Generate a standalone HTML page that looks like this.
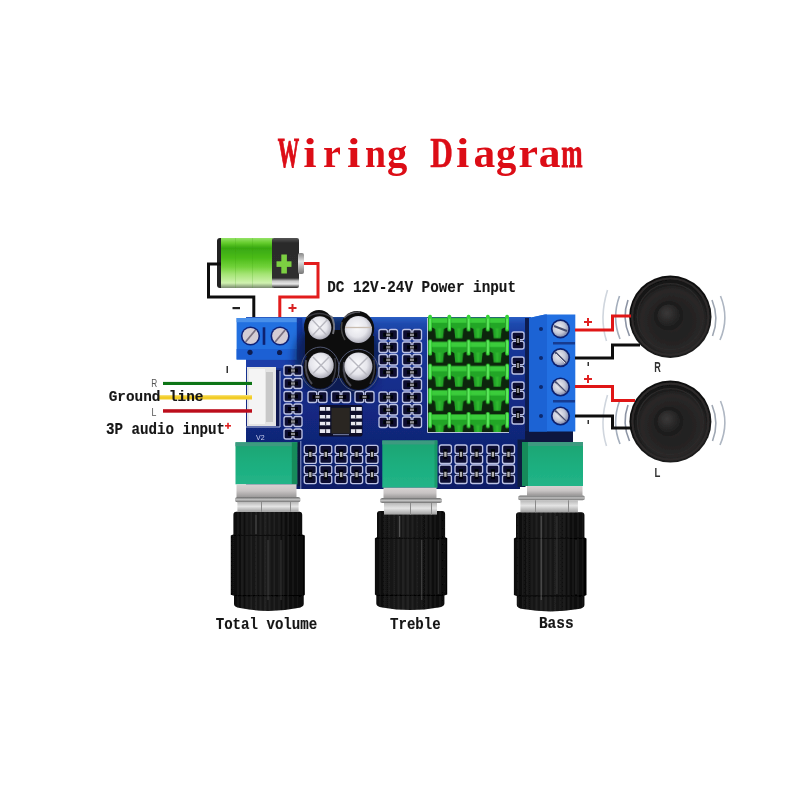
<!DOCTYPE html>
<html><head><meta charset="utf-8"><title>Wiring Diagram</title>
<style>
html,body{margin:0;padding:0;background:#fff;width:800px;height:800px;overflow:hidden}
svg{position:absolute;left:0;top:0;display:block}
text{font-family:"Liberation Mono",monospace;font-weight:bold}
.ser text{font-family:"Liberation Serif",serif;font-weight:bold}
</style></head><body>
<svg width="800" height="800" viewBox="0 0 800 800">
<defs>
  <clipPath id="clipBoard"><path d="M246 317 L531 317 L531 440 L520 440 L520 489 L246 489 Z"/></clipPath>
  <radialGradient id="gScrew" cx="0.4" cy="0.4" r="0.65">
    <stop offset="0" stop-color="#f0f0f4"/>
    <stop offset="0.6" stop-color="#c4c8d8"/>
    <stop offset="1" stop-color="#8088a8"/>
  </radialGradient>
  <filter id="soft" x="0" y="0" width="100%" height="100%"><feGaussianBlur stdDeviation="0.6"/></filter>
  <pattern id="pRidge" x="0" y="0" width="4.6" height="10" patternUnits="userSpaceOnUse">
    <rect width="4.6" height="10" fill="#000" opacity="0"/>
    <rect x="0" y="0" width="1.6" height="10" fill="#000"/>
    <rect x="2.4" y="0" width="1" height="10" fill="#555"/>
  </pattern>
  <filter id="blur4" x="-50%" y="-50%" width="200%" height="200%"><feGaussianBlur stdDeviation="4"/></filter>
  <filter id="blur2" x="-50%" y="-50%" width="200%" height="200%"><feGaussianBlur stdDeviation="2"/></filter>
  <linearGradient id="gBat" x1="0" y1="0" x2="0" y2="1">
    <stop offset="0" stop-color="#94e266"/>
    <stop offset="0.1" stop-color="#64cc2c"/>
    <stop offset="0.2" stop-color="#38a810"/>
    <stop offset="0.4" stop-color="#4cbc18"/>
    <stop offset="0.58" stop-color="#72d23a"/>
    <stop offset="0.72" stop-color="#a4e474"/>
    <stop offset="0.9" stop-color="#d0f2b0"/>
    <stop offset="1" stop-color="#7a8a70"/>
  </linearGradient>
  <linearGradient id="gBatK" x1="0" y1="0" x2="0" y2="1">
    <stop offset="0" stop-color="#555"/>
    <stop offset="0.1" stop-color="#2b2b2b"/>
    <stop offset="0.8" stop-color="#2e2e2e"/>
    <stop offset="0.86" stop-color="#c8c8c8"/>
    <stop offset="0.92" stop-color="#e8e8e8"/>
    <stop offset="1" stop-color="#222"/>
  </linearGradient>
  <linearGradient id="gNub" x1="0" y1="0" x2="0" y2="1">
    <stop offset="0" stop-color="#888"/>
    <stop offset="0.4" stop-color="#e0e0e0"/>
    <stop offset="1" stop-color="#777"/>
  </linearGradient>
  <linearGradient id="gKnob" x1="0" y1="0" x2="1" y2="0">
    <stop offset="0" stop-color="#060606"/>
    <stop offset="0.15" stop-color="#151515"/>
    <stop offset="0.45" stop-color="#1d1d1d"/>
    <stop offset="0.75" stop-color="#131313"/>
    <stop offset="1" stop-color="#050505"/>
  </linearGradient>
  <linearGradient id="gSilver" x1="0" y1="0" x2="0" y2="1">
    <stop offset="0" stop-color="#9a9a9a"/>
    <stop offset="0.5" stop-color="#dcdcdc"/>
    <stop offset="1" stop-color="#8a8a8a"/>
  </linearGradient>
  <linearGradient id="gPot" x1="0" y1="0" x2="0" y2="1">
    <stop offset="0" stop-color="#1aa472"/>
    <stop offset="0.5" stop-color="#1cae7e"/>
    <stop offset="1" stop-color="#22b488"/>
  </linearGradient>
  <linearGradient id="gSilverB" x1="0" y1="0" x2="0" y2="1">
    <stop offset="0" stop-color="#d8d2d2"/>
    <stop offset="0.5" stop-color="#c8c4c4"/>
    <stop offset="1" stop-color="#9a9898"/>
  </linearGradient>
  <linearGradient id="gWasher" x1="0" y1="0" x2="0" y2="1">
    <stop offset="0" stop-color="#6a6a6a"/>
    <stop offset="0.5" stop-color="#c0c0c0"/>
    <stop offset="1" stop-color="#707070"/>
  </linearGradient>
  <linearGradient id="gNut" x1="0" y1="0" x2="0" y2="1">
    <stop offset="0" stop-color="#b8b8b8"/>
    <stop offset="0.45" stop-color="#e4e4e4"/>
    <stop offset="1" stop-color="#a0a0a0"/>
  </linearGradient>
  <radialGradient id="gSpk" cx="0.52" cy="0.55" r="0.5">
    <stop offset="0" stop-color="#2a2828"/>
    <stop offset="0.4" stop-color="#222020"/>
    <stop offset="0.75" stop-color="#2a2828"/>
    <stop offset="0.9" stop-color="#1a1a1a"/>
    <stop offset="1" stop-color="#101010"/>
  </radialGradient>
  <radialGradient id="gDome" cx="0.42" cy="0.38" r="0.62">
    <stop offset="0" stop-color="#3a3838"/>
    <stop offset="1" stop-color="#1e1e1e"/>
  </radialGradient>
  <radialGradient id="gCap" cx="0.45" cy="0.42" r="0.6">
    <stop offset="0" stop-color="#fafafc"/>
    <stop offset="0.6" stop-color="#e6e6ec"/>
    <stop offset="1" stop-color="#a8a8b4"/>
  </radialGradient>
  <linearGradient id="gBoard" x1="0" y1="317" x2="0" y2="489" gradientUnits="userSpaceOnUse">
    <stop offset="0" stop-color="#2a5ec4"/>
    <stop offset="0.04" stop-color="#1e4aae"/>
    <stop offset="0.11" stop-color="#1a3a9c"/>
    <stop offset="0.48" stop-color="#132a86"/>
    <stop offset="1" stop-color="#0e1e66"/>
  </linearGradient>
  <pattern id="pHs" x="428" y="315.3" width="19.25" height="24.2" patternUnits="userSpaceOnUse">
    <rect width="19.25" height="24.2" fill="#0a280a"/>
    <path d="M4 2.5 L19.25 2.5 L19.25 12 L16 13.5 L15 23 L8 23 L7 13.5 L4 12 Z" fill="#24a628"/>
    <path d="M4 2.5 L19.25 2.5 L19.25 7.5 L4 7.5 Z" fill="#3acc3a"/>
    <path d="M10 13 L13 13 L12.6 22.5 L10.4 22.5 Z" fill="#2eb82e"/>
    <rect x="0.3" y="0" width="3.6" height="16" rx="1.5" fill="#36d436"/>
    <rect x="1.3" y="1" width="1.6" height="13" fill="#66ea66"/>
  </pattern>
</defs>
<g filter="url(#soft)">
<rect x="0" y="0" width="800" height="800" fill="#ffffff"/>

<!-- Title -->
<g class="ser">
<text transform="translate(288.50,166.5) scale(0.516,1)" x="-20.75" y="0" font-size="41.5" fill="#dc0a14" stroke="#dc0a14" stroke-width="0.85" vector-effect="non-scaling-stroke">W</text>
<text transform="translate(310.30,166.5) scale(1.157,1)" x="-6.02" y="0" font-size="41.5" fill="#dc0a14">i</text>
<text transform="translate(332.10,166.5) scale(0.970,1)" x="-9.34" y="0" font-size="41.5" fill="#dc0a14">r</text>
<text transform="translate(353.90,166.5) scale(1.157,1)" x="-6.02" y="0" font-size="41.5" fill="#dc0a14">i</text>
<text transform="translate(375.70,166.5) scale(0.909,1)" x="-11.83" y="0" font-size="41.5" fill="#dc0a14">n</text>
<text transform="translate(397.50,166.5) scale(0.979,1)" x="-10.79" y="0" font-size="41.5" fill="#dc0a14">g</text>
<text transform="translate(441.10,166.5) scale(0.755,1)" x="-14.32" y="0" font-size="41.5" fill="#dc0a14" stroke="#dc0a14" stroke-width="0.43" vector-effect="non-scaling-stroke">D</text>
<text transform="translate(462.90,166.5) scale(1.157,1)" x="-6.02" y="0" font-size="41.5" fill="#dc0a14">i</text>
<text transform="translate(484.70,166.5) scale(1.048,1)" x="-10.79" y="0" font-size="41.5" fill="#dc0a14">a</text>
<text transform="translate(506.50,166.5) scale(0.979,1)" x="-10.79" y="0" font-size="41.5" fill="#dc0a14">g</text>
<text transform="translate(528.30,166.5) scale(1.058,1)" x="-9.34" y="0" font-size="41.5" fill="#dc0a14">r</text>
<text transform="translate(550.10,166.5) scale(1.048,1)" x="-10.79" y="0" font-size="41.5" fill="#dc0a14">a</text>
<text transform="translate(571.90,166.5) scale(0.617,1)" x="-17.43" y="0" font-size="41.5" fill="#dc0a14" stroke="#dc0a14" stroke-width="0.67" vector-effect="non-scaling-stroke">m</text>
</g>

<!-- Battery -->
<rect x="217" y="238" width="8" height="50" rx="3" fill="#222"/>
<rect x="221" y="238" width="52" height="50" fill="url(#gBat)"/>
<rect x="235" y="238" width="1" height="50" fill="#3a9a10" opacity="0.18"/>
<rect x="252" y="238" width="1" height="50" fill="#3a9a10" opacity="0.18"/>
<rect x="272" y="238" width="27" height="50" rx="2" fill="url(#gBatK)"/>
<rect x="298" y="253" width="6" height="21" rx="2" fill="url(#gNub)"/>
<rect x="276.5" y="261.3" width="15" height="5.6" fill="#7ccf42"/>
<rect x="281.3" y="254.5" width="5.6" height="19" fill="#7ccf42"/>

<!-- Battery wires -->
<polyline points="221,264 208.5,264 208.5,297 253.8,297 253.8,320" fill="none" stroke="#111" stroke-width="3"/>
<polyline points="304,263.5 318,263.5 318,297 279.8,297 279.8,320" fill="none" stroke="#e21a1a" stroke-width="3"/>
<rect x="232.5" y="307" width="7.5" height="2.2" fill="#222"/>
<rect x="288.5" y="307" width="8" height="2" fill="#d82020"/>
<rect x="291.5" y="304" width="2" height="8" fill="#d82020"/>

<g class="ser"><text transform="translate(327.20,292.3) scale(0.843,1)" x="0" y="0" font-size="16.97" fill="#141414" style="font-family:'Liberation Mono',monospace;font-weight:bold" stroke="#141414" stroke-width="0.15">DC 12V-24V Power input</text></g>

<!-- PCB board -->
<path d="M246 317 L531 317 L531 440 L520 440 L520 489 L246 489 Z" fill="url(#gBoard)"/>

<!-- Left terminal block -->
<rect x="246" y="358" width="56" height="10" fill="#1a3ea8"/>
<rect x="236.6" y="318" width="60.4" height="41.5" fill="#2270e0"/>
<rect x="236.6" y="318" width="60.4" height="4.2" fill="#4a90ea"/>
<rect x="236.6" y="349" width="60.4" height="10.5" fill="#1c60d4"/>
<rect x="296.8" y="318" width="5.5" height="41.5" fill="#1238a0"/>
<rect x="262.7" y="327.3" width="2.6" height="17.5" fill="#0c2070"/>
<circle cx="250.5" cy="336" r="9.6" fill="#102278"/>
<circle cx="250.5" cy="336" r="8" fill="#d4ccd4"/>
<line x1="245.5" y1="342" x2="255.5" y2="330" stroke="#7a7080" stroke-width="1.8"/>
<circle cx="280.1" cy="336" r="9.6" fill="#102278"/>
<circle cx="280.1" cy="336" r="8" fill="#d4ccd4"/>
<line x1="275.1" y1="342" x2="285.1" y2="330" stroke="#7a7080" stroke-width="1.8"/>
<circle cx="250" cy="352.3" r="2.6" fill="#0a1a50"/>
<circle cx="279.6" cy="352.5" r="2.6" fill="#0a1a50"/>

<!-- White JST connector -->
<rect x="247" y="367" width="29" height="59" fill="#e4e4e4"/>
<rect x="249" y="369" width="16" height="55" fill="#f4f4f4"/>
<rect x="266" y="372" width="7" height="50" fill="#c8c8c8"/>
<rect x="276" y="370" width="4" height="56" fill="#0c1850"/>
<path d="M280 371 L280 427 L246 427" fill="none" stroke="#b8c0e0" stroke-width="1"/>
<text x="256" y="440" font-size="7" fill="#c8d0f0" style="font-family:'Liberation Sans',sans-serif;font-weight:normal">V2</text>

<!-- Capacitors -->
<g clip-path="url(#clipBoard)"><ellipse cx="338" cy="358" rx="44" ry="42" fill="#060a28" opacity="0.55" filter="url(#blur4)"/></g>
<g>
  <rect x="316" y="330" width="46" height="48" fill="#0b0b0e"/>
  <rect x="305" y="334" width="30" height="22" fill="#0b0b0e"/>
  <rect x="342" y="336" width="32" height="22" fill="#0b0b0e"/>
  <ellipse cx="319" cy="327" rx="15" ry="17" fill="#0e0e10"/>
  <ellipse cx="357.2" cy="328.5" rx="17" ry="17.5" fill="#0e0e10"/>
  <ellipse cx="320.2" cy="368.6" rx="16.8" ry="20.2" fill="#0e0e10"/>
  <ellipse cx="358.3" cy="370.3" rx="18" ry="19.7" fill="#0e0e10"/>
  <ellipse cx="320.2" cy="368.6" rx="19" ry="21.5" fill="none" stroke="#58607a" stroke-width="0.9"/>
  <ellipse cx="358.3" cy="370.3" rx="20" ry="21" fill="none" stroke="#58607a" stroke-width="0.9"/>
  <path d="M306 318 Q319 309 333 318" fill="none" stroke="#3a3a40" stroke-width="1.5"/>
  <path d="M331 316 Q336 324 333 334" fill="none" stroke="#8a8a90" stroke-width="2" opacity="0.8"/>
  <path d="M306 360 Q304 375 312 384" fill="none" stroke="#4a4a52" stroke-width="2"/>
  <path d="M344 362 Q342 378 351 386" fill="none" stroke="#4a4a52" stroke-width="2"/>
  <path d="M335 358 Q337 372 332 382" fill="none" stroke="#3a3a42" stroke-width="1.5"/>
  <path d="M374 360 Q376 374 370 384" fill="none" stroke="#3a3a42" stroke-width="1.5"/>
  <path d="M342 322 Q340 332 345 340" fill="none" stroke="#444" stroke-width="1.5"/>
  <path d="M344 318 Q350 312 360 312" fill="none" stroke="#6a6a70" stroke-width="1.5" opacity="0.8"/>
  <circle cx="319.8" cy="327.8" r="11.6" fill="url(#gCap)"/>
  <path d="M312 319.5 L327.5 336 M327.5 319.5 L312 336" stroke="#b8b8c0" stroke-width="1.4"/>
  <circle cx="358.4" cy="329.5" r="13.6" fill="url(#gCap)"/>
  <line x1="345" y1="327.5" x2="372" y2="327.5" stroke="#c8bcb0" stroke-width="1.3"/>
  <circle cx="320.9" cy="365.4" r="12.8" fill="url(#gCap)"/>
  <path d="M313 357 L329 373.5 M329 357 L313 373.5" stroke="#b8b8c0" stroke-width="1.4"/>
  <circle cx="358.4" cy="366.5" r="14" fill="url(#gCap)"/>
  <path d="M349 357 L368 376 M368 357 L349 376" stroke="#b8b8c0" stroke-width="1.4"/>
</g>

<!-- IC chip -->
<rect x="319" y="405" width="43.5" height="31.5" rx="2" fill="#06081a" opacity="0.85"/>
<rect x="331.4" y="407.7" width="18.4" height="26" fill="#2a2624"/>
<rect x="333" y="434.2" width="16" height="1" fill="#8088b0"/>
<g fill="#e8e8f0">
  <rect x="319.8" y="407" width="10.4" height="3.8"/><rect x="319.8" y="415" width="10.4" height="3.5"/><rect x="319.8" y="421.8" width="10.4" height="3.5"/><rect x="319.8" y="429.2" width="10.4" height="3.8"/>
  <rect x="350.9" y="407" width="10.9" height="3.8"/><rect x="350.9" y="415" width="10.9" height="3.5"/><rect x="350.9" y="421.8" width="10.9" height="3.5"/><rect x="350.9" y="429.2" width="10.9" height="3.8"/>
</g>
<g fill="#404050">
  <rect x="325" y="407" width="1.2" height="3.8"/><rect x="325" y="415" width="1.2" height="3.5"/><rect x="325" y="421.8" width="1.2" height="3.5"/><rect x="325" y="429.2" width="1.2" height="3.8"/>
  <rect x="355" y="407" width="1.2" height="3.8"/><rect x="355" y="415" width="1.2" height="3.5"/><rect x="355" y="421.8" width="1.2" height="3.5"/><rect x="355" y="429.2" width="1.2" height="3.8"/>
</g>

<!-- Pads -->
<g id="pads">
<rect x="284.0" y="365.5" width="18.0" height="10.0" fill="#0c1030"/><rect x="284.0" y="365.5" width="8.2" height="10.0" rx="2" fill="none" stroke="#bcc2e6" stroke-width="1.35"/><rect x="293.8" y="365.5" width="8.2" height="10.0" rx="2" fill="none" stroke="#bcc2e6" stroke-width="1.35"/><rect x="288.1" y="368.5" width="9.8" height="4" fill="#050508"/><rect x="291.0" y="369.3" width="4" height="2.4" fill="#8a8a90"/>
<rect x="284.0" y="378.5" width="18.0" height="10.0" fill="#0c1030"/><rect x="284.0" y="378.5" width="8.2" height="10.0" rx="2" fill="none" stroke="#bcc2e6" stroke-width="1.35"/><rect x="293.8" y="378.5" width="8.2" height="10.0" rx="2" fill="none" stroke="#bcc2e6" stroke-width="1.35"/><rect x="288.1" y="381.5" width="9.8" height="4" fill="#050508"/><rect x="291.0" y="382.3" width="4" height="2.4" fill="#8a8a90"/>
<rect x="284.0" y="391.5" width="18.0" height="10.0" fill="#0c1030"/><rect x="284.0" y="391.5" width="8.2" height="10.0" rx="2" fill="none" stroke="#bcc2e6" stroke-width="1.35"/><rect x="293.8" y="391.5" width="8.2" height="10.0" rx="2" fill="none" stroke="#bcc2e6" stroke-width="1.35"/><rect x="288.1" y="394.5" width="9.8" height="4" fill="#050508"/><rect x="291.0" y="395.3" width="4" height="2.4" fill="#8a8a90"/>
<rect x="284.0" y="404.0" width="18.0" height="10.0" fill="#0c1030"/><rect x="284.0" y="404.0" width="8.2" height="10.0" rx="2" fill="none" stroke="#bcc2e6" stroke-width="1.35"/><rect x="293.8" y="404.0" width="8.2" height="10.0" rx="2" fill="none" stroke="#bcc2e6" stroke-width="1.35"/><rect x="288.1" y="407.0" width="9.8" height="4" fill="#050508"/><rect x="291.0" y="407.8" width="4" height="2.4" fill="#8a8a90"/>
<rect x="284.0" y="416.5" width="18.0" height="10.0" fill="#0c1030"/><rect x="284.0" y="416.5" width="8.2" height="10.0" rx="2" fill="none" stroke="#bcc2e6" stroke-width="1.35"/><rect x="293.8" y="416.5" width="8.2" height="10.0" rx="2" fill="none" stroke="#bcc2e6" stroke-width="1.35"/><rect x="288.1" y="419.5" width="9.8" height="4" fill="#050508"/><rect x="291.0" y="420.3" width="4" height="2.4" fill="#8a8a90"/>
<rect x="284.0" y="429.0" width="18.0" height="10.0" fill="#0c1030"/><rect x="284.0" y="429.0" width="8.2" height="10.0" rx="2" fill="none" stroke="#bcc2e6" stroke-width="1.35"/><rect x="293.8" y="429.0" width="8.2" height="10.0" rx="2" fill="none" stroke="#bcc2e6" stroke-width="1.35"/><rect x="288.1" y="432.0" width="9.8" height="4" fill="#050508"/><rect x="291.0" y="432.8" width="4" height="2.4" fill="#8a8a90"/>
<rect x="308.0" y="391.5" width="19.0" height="11.0" fill="#0c1030"/><rect x="308.0" y="391.5" width="8.7" height="11.0" rx="2" fill="none" stroke="#bcc2e6" stroke-width="1.35"/><rect x="318.3" y="391.5" width="8.7" height="11.0" rx="2" fill="none" stroke="#bcc2e6" stroke-width="1.35"/><rect x="312.4" y="395.0" width="10.3" height="4" fill="#050508"/><rect x="315.5" y="395.8" width="4" height="2.4" fill="#8a8a90"/>
<rect x="331.5" y="391.5" width="19.0" height="11.0" fill="#0c1030"/><rect x="331.5" y="391.5" width="8.7" height="11.0" rx="2" fill="none" stroke="#bcc2e6" stroke-width="1.35"/><rect x="341.8" y="391.5" width="8.7" height="11.0" rx="2" fill="none" stroke="#bcc2e6" stroke-width="1.35"/><rect x="335.9" y="395.0" width="10.3" height="4" fill="#050508"/><rect x="339.0" y="395.8" width="4" height="2.4" fill="#8a8a90"/>
<rect x="355.0" y="391.5" width="19.0" height="11.0" fill="#0c1030"/><rect x="355.0" y="391.5" width="8.7" height="11.0" rx="2" fill="none" stroke="#bcc2e6" stroke-width="1.35"/><rect x="365.3" y="391.5" width="8.7" height="11.0" rx="2" fill="none" stroke="#bcc2e6" stroke-width="1.35"/><rect x="359.4" y="395.0" width="10.3" height="4" fill="#050508"/><rect x="362.5" y="395.8" width="4" height="2.4" fill="#8a8a90"/>
<rect x="379.0" y="329.5" width="18.5" height="10.5" fill="#0c1030"/><rect x="379.0" y="329.5" width="8.4" height="10.5" rx="2" fill="none" stroke="#bcc2e6" stroke-width="1.35"/><rect x="389.1" y="329.5" width="8.4" height="10.5" rx="2" fill="none" stroke="#bcc2e6" stroke-width="1.35"/><rect x="383.2" y="332.8" width="10.0" height="4" fill="#050508"/><rect x="386.2" y="333.6" width="4" height="2.4" fill="#8a8a90"/>
<rect x="379.0" y="342.0" width="18.5" height="10.5" fill="#0c1030"/><rect x="379.0" y="342.0" width="8.4" height="10.5" rx="2" fill="none" stroke="#bcc2e6" stroke-width="1.35"/><rect x="389.1" y="342.0" width="8.4" height="10.5" rx="2" fill="none" stroke="#bcc2e6" stroke-width="1.35"/><rect x="383.2" y="345.2" width="10.0" height="4" fill="#050508"/><rect x="386.2" y="346.1" width="4" height="2.4" fill="#8a8a90"/>
<rect x="379.0" y="354.5" width="18.5" height="10.5" fill="#0c1030"/><rect x="379.0" y="354.5" width="8.4" height="10.5" rx="2" fill="none" stroke="#bcc2e6" stroke-width="1.35"/><rect x="389.1" y="354.5" width="8.4" height="10.5" rx="2" fill="none" stroke="#bcc2e6" stroke-width="1.35"/><rect x="383.2" y="357.8" width="10.0" height="4" fill="#050508"/><rect x="386.2" y="358.6" width="4" height="2.4" fill="#8a8a90"/>
<rect x="379.0" y="367.0" width="18.5" height="10.5" fill="#0c1030"/><rect x="379.0" y="367.0" width="8.4" height="10.5" rx="2" fill="none" stroke="#bcc2e6" stroke-width="1.35"/><rect x="389.1" y="367.0" width="8.4" height="10.5" rx="2" fill="none" stroke="#bcc2e6" stroke-width="1.35"/><rect x="383.2" y="370.2" width="10.0" height="4" fill="#050508"/><rect x="386.2" y="371.1" width="4" height="2.4" fill="#8a8a90"/>
<rect x="379.0" y="392.0" width="18.5" height="10.5" fill="#0c1030"/><rect x="379.0" y="392.0" width="8.4" height="10.5" rx="2" fill="none" stroke="#bcc2e6" stroke-width="1.35"/><rect x="389.1" y="392.0" width="8.4" height="10.5" rx="2" fill="none" stroke="#bcc2e6" stroke-width="1.35"/><rect x="383.2" y="395.2" width="10.0" height="4" fill="#050508"/><rect x="386.2" y="396.1" width="4" height="2.4" fill="#8a8a90"/>
<rect x="379.0" y="404.5" width="18.5" height="10.5" fill="#0c1030"/><rect x="379.0" y="404.5" width="8.4" height="10.5" rx="2" fill="none" stroke="#bcc2e6" stroke-width="1.35"/><rect x="389.1" y="404.5" width="8.4" height="10.5" rx="2" fill="none" stroke="#bcc2e6" stroke-width="1.35"/><rect x="383.2" y="407.8" width="10.0" height="4" fill="#050508"/><rect x="386.2" y="408.6" width="4" height="2.4" fill="#8a8a90"/>
<rect x="379.0" y="417.0" width="18.5" height="10.5" fill="#0c1030"/><rect x="379.0" y="417.0" width="8.4" height="10.5" rx="2" fill="none" stroke="#bcc2e6" stroke-width="1.35"/><rect x="389.1" y="417.0" width="8.4" height="10.5" rx="2" fill="none" stroke="#bcc2e6" stroke-width="1.35"/><rect x="383.2" y="420.2" width="10.0" height="4" fill="#050508"/><rect x="386.2" y="421.1" width="4" height="2.4" fill="#8a8a90"/>
<rect x="402.5" y="329.5" width="19.0" height="10.5" fill="#0c1030"/><rect x="402.5" y="329.5" width="8.7" height="10.5" rx="2" fill="none" stroke="#bcc2e6" stroke-width="1.35"/><rect x="412.8" y="329.5" width="8.7" height="10.5" rx="2" fill="none" stroke="#bcc2e6" stroke-width="1.35"/><rect x="406.9" y="332.8" width="10.3" height="4" fill="#050508"/><rect x="410.0" y="333.6" width="4" height="2.4" fill="#8a8a90"/>
<rect x="402.5" y="342.0" width="19.0" height="10.5" fill="#0c1030"/><rect x="402.5" y="342.0" width="8.7" height="10.5" rx="2" fill="none" stroke="#bcc2e6" stroke-width="1.35"/><rect x="412.8" y="342.0" width="8.7" height="10.5" rx="2" fill="none" stroke="#bcc2e6" stroke-width="1.35"/><rect x="406.9" y="345.2" width="10.3" height="4" fill="#050508"/><rect x="410.0" y="346.1" width="4" height="2.4" fill="#8a8a90"/>
<rect x="402.5" y="354.5" width="19.0" height="10.5" fill="#0c1030"/><rect x="402.5" y="354.5" width="8.7" height="10.5" rx="2" fill="none" stroke="#bcc2e6" stroke-width="1.35"/><rect x="412.8" y="354.5" width="8.7" height="10.5" rx="2" fill="none" stroke="#bcc2e6" stroke-width="1.35"/><rect x="406.9" y="357.8" width="10.3" height="4" fill="#050508"/><rect x="410.0" y="358.6" width="4" height="2.4" fill="#8a8a90"/>
<rect x="402.5" y="367.0" width="19.0" height="10.5" fill="#0c1030"/><rect x="402.5" y="367.0" width="8.7" height="10.5" rx="2" fill="none" stroke="#bcc2e6" stroke-width="1.35"/><rect x="412.8" y="367.0" width="8.7" height="10.5" rx="2" fill="none" stroke="#bcc2e6" stroke-width="1.35"/><rect x="406.9" y="370.2" width="10.3" height="4" fill="#050508"/><rect x="410.0" y="371.1" width="4" height="2.4" fill="#8a8a90"/>
<rect x="402.5" y="379.5" width="19.0" height="10.5" fill="#0c1030"/><rect x="402.5" y="379.5" width="8.7" height="10.5" rx="2" fill="none" stroke="#bcc2e6" stroke-width="1.35"/><rect x="412.8" y="379.5" width="8.7" height="10.5" rx="2" fill="none" stroke="#bcc2e6" stroke-width="1.35"/><rect x="406.9" y="382.8" width="10.3" height="4" fill="#050508"/><rect x="410.0" y="383.6" width="4" height="2.4" fill="#8a8a90"/>
<rect x="402.5" y="392.0" width="19.0" height="10.5" fill="#0c1030"/><rect x="402.5" y="392.0" width="8.7" height="10.5" rx="2" fill="none" stroke="#bcc2e6" stroke-width="1.35"/><rect x="412.8" y="392.0" width="8.7" height="10.5" rx="2" fill="none" stroke="#bcc2e6" stroke-width="1.35"/><rect x="406.9" y="395.2" width="10.3" height="4" fill="#050508"/><rect x="410.0" y="396.1" width="4" height="2.4" fill="#8a8a90"/>
<rect x="402.5" y="404.5" width="19.0" height="10.5" fill="#0c1030"/><rect x="402.5" y="404.5" width="8.7" height="10.5" rx="2" fill="none" stroke="#bcc2e6" stroke-width="1.35"/><rect x="412.8" y="404.5" width="8.7" height="10.5" rx="2" fill="none" stroke="#bcc2e6" stroke-width="1.35"/><rect x="406.9" y="407.8" width="10.3" height="4" fill="#050508"/><rect x="410.0" y="408.6" width="4" height="2.4" fill="#8a8a90"/>
<rect x="402.5" y="417.0" width="19.0" height="10.5" fill="#0c1030"/><rect x="402.5" y="417.0" width="8.7" height="10.5" rx="2" fill="none" stroke="#bcc2e6" stroke-width="1.35"/><rect x="412.8" y="417.0" width="8.7" height="10.5" rx="2" fill="none" stroke="#bcc2e6" stroke-width="1.35"/><rect x="406.9" y="420.2" width="10.3" height="4" fill="#050508"/><rect x="410.0" y="421.1" width="4" height="2.4" fill="#8a8a90"/>
<rect x="512.0" y="332.0" width="12.0" height="17.0" fill="#0c1030"/><rect x="512.0" y="332.0" width="12.0" height="7.7" rx="2" fill="none" stroke="#bcc2e6" stroke-width="1.35"/><rect x="512.0" y="341.3" width="12.0" height="7.7" rx="2" fill="none" stroke="#bcc2e6" stroke-width="1.35"/><rect x="516.0" y="335.9" width="4" height="9.3" fill="#050508"/><rect x="516.8" y="338.0" width="2.4" height="5" fill="#8a8a90"/>
<rect x="512.0" y="357.0" width="12.0" height="17.0" fill="#0c1030"/><rect x="512.0" y="357.0" width="12.0" height="7.7" rx="2" fill="none" stroke="#bcc2e6" stroke-width="1.35"/><rect x="512.0" y="366.3" width="12.0" height="7.7" rx="2" fill="none" stroke="#bcc2e6" stroke-width="1.35"/><rect x="516.0" y="360.9" width="4" height="9.3" fill="#050508"/><rect x="516.8" y="363.0" width="2.4" height="5" fill="#8a8a90"/>
<rect x="512.0" y="382.0" width="12.0" height="17.0" fill="#0c1030"/><rect x="512.0" y="382.0" width="12.0" height="7.7" rx="2" fill="none" stroke="#bcc2e6" stroke-width="1.35"/><rect x="512.0" y="391.3" width="12.0" height="7.7" rx="2" fill="none" stroke="#bcc2e6" stroke-width="1.35"/><rect x="516.0" y="385.9" width="4" height="9.3" fill="#050508"/><rect x="516.8" y="388.0" width="2.4" height="5" fill="#8a8a90"/>
<rect x="512.0" y="407.0" width="12.0" height="17.0" fill="#0c1030"/><rect x="512.0" y="407.0" width="12.0" height="7.7" rx="2" fill="none" stroke="#bcc2e6" stroke-width="1.35"/><rect x="512.0" y="416.3" width="12.0" height="7.7" rx="2" fill="none" stroke="#bcc2e6" stroke-width="1.35"/><rect x="516.0" y="410.9" width="4" height="9.3" fill="#050508"/><rect x="516.8" y="413.0" width="2.4" height="5" fill="#8a8a90"/>
<rect x="304.3" y="445.4" width="12.0" height="18.0" fill="#0c1030"/><rect x="304.3" y="445.4" width="12.0" height="8.2" rx="2" fill="none" stroke="#bcc2e6" stroke-width="1.35"/><rect x="304.3" y="455.2" width="12.0" height="8.2" rx="2" fill="none" stroke="#bcc2e6" stroke-width="1.35"/><rect x="308.3" y="449.5" width="4" height="9.8" fill="#050508"/><rect x="309.1" y="451.9" width="2.4" height="5" fill="#b0b0b0"/>
<rect x="304.3" y="465.6" width="12.0" height="18.0" fill="#0c1030"/><rect x="304.3" y="465.6" width="12.0" height="8.2" rx="2" fill="none" stroke="#bcc2e6" stroke-width="1.35"/><rect x="304.3" y="475.4" width="12.0" height="8.2" rx="2" fill="none" stroke="#bcc2e6" stroke-width="1.35"/><rect x="308.3" y="469.7" width="4" height="9.8" fill="#050508"/><rect x="309.1" y="472.1" width="2.4" height="5" fill="#b0b0b0"/>
<rect x="319.8" y="445.4" width="12.0" height="18.0" fill="#0c1030"/><rect x="319.8" y="445.4" width="12.0" height="8.2" rx="2" fill="none" stroke="#bcc2e6" stroke-width="1.35"/><rect x="319.8" y="455.2" width="12.0" height="8.2" rx="2" fill="none" stroke="#bcc2e6" stroke-width="1.35"/><rect x="323.8" y="449.5" width="4" height="9.8" fill="#050508"/><rect x="324.6" y="451.9" width="2.4" height="5" fill="#b0b0b0"/>
<rect x="319.8" y="465.6" width="12.0" height="18.0" fill="#0c1030"/><rect x="319.8" y="465.6" width="12.0" height="8.2" rx="2" fill="none" stroke="#bcc2e6" stroke-width="1.35"/><rect x="319.8" y="475.4" width="12.0" height="8.2" rx="2" fill="none" stroke="#bcc2e6" stroke-width="1.35"/><rect x="323.8" y="469.7" width="4" height="9.8" fill="#050508"/><rect x="324.6" y="472.1" width="2.4" height="5" fill="#b0b0b0"/>
<rect x="335.2" y="445.4" width="12.0" height="18.0" fill="#0c1030"/><rect x="335.2" y="445.4" width="12.0" height="8.2" rx="2" fill="none" stroke="#bcc2e6" stroke-width="1.35"/><rect x="335.2" y="455.2" width="12.0" height="8.2" rx="2" fill="none" stroke="#bcc2e6" stroke-width="1.35"/><rect x="339.2" y="449.5" width="4" height="9.8" fill="#050508"/><rect x="340.0" y="451.9" width="2.4" height="5" fill="#b0b0b0"/>
<rect x="335.2" y="465.6" width="12.0" height="18.0" fill="#0c1030"/><rect x="335.2" y="465.6" width="12.0" height="8.2" rx="2" fill="none" stroke="#bcc2e6" stroke-width="1.35"/><rect x="335.2" y="475.4" width="12.0" height="8.2" rx="2" fill="none" stroke="#bcc2e6" stroke-width="1.35"/><rect x="339.2" y="469.7" width="4" height="9.8" fill="#050508"/><rect x="340.0" y="472.1" width="2.4" height="5" fill="#b0b0b0"/>
<rect x="350.6" y="445.4" width="12.0" height="18.0" fill="#0c1030"/><rect x="350.6" y="445.4" width="12.0" height="8.2" rx="2" fill="none" stroke="#bcc2e6" stroke-width="1.35"/><rect x="350.6" y="455.2" width="12.0" height="8.2" rx="2" fill="none" stroke="#bcc2e6" stroke-width="1.35"/><rect x="354.6" y="449.5" width="4" height="9.8" fill="#050508"/><rect x="355.4" y="451.9" width="2.4" height="5" fill="#b0b0b0"/>
<rect x="350.6" y="465.6" width="12.0" height="18.0" fill="#0c1030"/><rect x="350.6" y="465.6" width="12.0" height="8.2" rx="2" fill="none" stroke="#bcc2e6" stroke-width="1.35"/><rect x="350.6" y="475.4" width="12.0" height="8.2" rx="2" fill="none" stroke="#bcc2e6" stroke-width="1.35"/><rect x="354.6" y="469.7" width="4" height="9.8" fill="#050508"/><rect x="355.4" y="472.1" width="2.4" height="5" fill="#b0b0b0"/>
<rect x="366.0" y="445.4" width="12.0" height="18.0" fill="#0c1030"/><rect x="366.0" y="445.4" width="12.0" height="8.2" rx="2" fill="none" stroke="#bcc2e6" stroke-width="1.35"/><rect x="366.0" y="455.2" width="12.0" height="8.2" rx="2" fill="none" stroke="#bcc2e6" stroke-width="1.35"/><rect x="370.0" y="449.5" width="4" height="9.8" fill="#050508"/><rect x="370.8" y="451.9" width="2.4" height="5" fill="#b0b0b0"/>
<rect x="366.0" y="465.6" width="12.0" height="18.0" fill="#0c1030"/><rect x="366.0" y="465.6" width="12.0" height="8.2" rx="2" fill="none" stroke="#bcc2e6" stroke-width="1.35"/><rect x="366.0" y="475.4" width="12.0" height="8.2" rx="2" fill="none" stroke="#bcc2e6" stroke-width="1.35"/><rect x="370.0" y="469.7" width="4" height="9.8" fill="#050508"/><rect x="370.8" y="472.1" width="2.4" height="5" fill="#b0b0b0"/>
<rect x="439.4" y="445.0" width="12.0" height="18.5" fill="#0c1030"/><rect x="439.4" y="445.0" width="12.0" height="8.4" rx="2" fill="none" stroke="#bcc2e6" stroke-width="1.35"/><rect x="439.4" y="455.1" width="12.0" height="8.4" rx="2" fill="none" stroke="#bcc2e6" stroke-width="1.35"/><rect x="443.4" y="449.2" width="4" height="10.0" fill="#050508"/><rect x="444.2" y="451.8" width="2.4" height="5" fill="#b0b0b0"/>
<rect x="439.4" y="465.0" width="12.0" height="18.5" fill="#0c1030"/><rect x="439.4" y="465.0" width="12.0" height="8.4" rx="2" fill="none" stroke="#bcc2e6" stroke-width="1.35"/><rect x="439.4" y="475.1" width="12.0" height="8.4" rx="2" fill="none" stroke="#bcc2e6" stroke-width="1.35"/><rect x="443.4" y="469.2" width="4" height="10.0" fill="#050508"/><rect x="444.2" y="471.8" width="2.4" height="5" fill="#b0b0b0"/>
<rect x="455.0" y="445.0" width="12.0" height="18.5" fill="#0c1030"/><rect x="455.0" y="445.0" width="12.0" height="8.4" rx="2" fill="none" stroke="#bcc2e6" stroke-width="1.35"/><rect x="455.0" y="455.1" width="12.0" height="8.4" rx="2" fill="none" stroke="#bcc2e6" stroke-width="1.35"/><rect x="459.0" y="449.2" width="4" height="10.0" fill="#050508"/><rect x="459.8" y="451.8" width="2.4" height="5" fill="#b0b0b0"/>
<rect x="455.0" y="465.0" width="12.0" height="18.5" fill="#0c1030"/><rect x="455.0" y="465.0" width="12.0" height="8.4" rx="2" fill="none" stroke="#bcc2e6" stroke-width="1.35"/><rect x="455.0" y="475.1" width="12.0" height="8.4" rx="2" fill="none" stroke="#bcc2e6" stroke-width="1.35"/><rect x="459.0" y="469.2" width="4" height="10.0" fill="#050508"/><rect x="459.8" y="471.8" width="2.4" height="5" fill="#b0b0b0"/>
<rect x="470.6" y="445.0" width="12.0" height="18.5" fill="#0c1030"/><rect x="470.6" y="445.0" width="12.0" height="8.4" rx="2" fill="none" stroke="#bcc2e6" stroke-width="1.35"/><rect x="470.6" y="455.1" width="12.0" height="8.4" rx="2" fill="none" stroke="#bcc2e6" stroke-width="1.35"/><rect x="474.6" y="449.2" width="4" height="10.0" fill="#050508"/><rect x="475.4" y="451.8" width="2.4" height="5" fill="#b0b0b0"/>
<rect x="470.6" y="465.0" width="12.0" height="18.5" fill="#0c1030"/><rect x="470.6" y="465.0" width="12.0" height="8.4" rx="2" fill="none" stroke="#bcc2e6" stroke-width="1.35"/><rect x="470.6" y="475.1" width="12.0" height="8.4" rx="2" fill="none" stroke="#bcc2e6" stroke-width="1.35"/><rect x="474.6" y="469.2" width="4" height="10.0" fill="#050508"/><rect x="475.4" y="471.8" width="2.4" height="5" fill="#b0b0b0"/>
<rect x="486.9" y="445.0" width="12.0" height="18.5" fill="#0c1030"/><rect x="486.9" y="445.0" width="12.0" height="8.4" rx="2" fill="none" stroke="#bcc2e6" stroke-width="1.35"/><rect x="486.9" y="455.1" width="12.0" height="8.4" rx="2" fill="none" stroke="#bcc2e6" stroke-width="1.35"/><rect x="490.9" y="449.2" width="4" height="10.0" fill="#050508"/><rect x="491.7" y="451.8" width="2.4" height="5" fill="#b0b0b0"/>
<rect x="486.9" y="465.0" width="12.0" height="18.5" fill="#0c1030"/><rect x="486.9" y="465.0" width="12.0" height="8.4" rx="2" fill="none" stroke="#bcc2e6" stroke-width="1.35"/><rect x="486.9" y="475.1" width="12.0" height="8.4" rx="2" fill="none" stroke="#bcc2e6" stroke-width="1.35"/><rect x="490.9" y="469.2" width="4" height="10.0" fill="#050508"/><rect x="491.7" y="471.8" width="2.4" height="5" fill="#b0b0b0"/>
<rect x="502.5" y="445.0" width="12.0" height="18.5" fill="#0c1030"/><rect x="502.5" y="445.0" width="12.0" height="8.4" rx="2" fill="none" stroke="#bcc2e6" stroke-width="1.35"/><rect x="502.5" y="455.1" width="12.0" height="8.4" rx="2" fill="none" stroke="#bcc2e6" stroke-width="1.35"/><rect x="506.5" y="449.2" width="4" height="10.0" fill="#050508"/><rect x="507.3" y="451.8" width="2.4" height="5" fill="#b0b0b0"/>
<rect x="502.5" y="465.0" width="12.0" height="18.5" fill="#0c1030"/><rect x="502.5" y="465.0" width="12.0" height="8.4" rx="2" fill="none" stroke="#bcc2e6" stroke-width="1.35"/><rect x="502.5" y="475.1" width="12.0" height="8.4" rx="2" fill="none" stroke="#bcc2e6" stroke-width="1.35"/><rect x="506.5" y="469.2" width="4" height="10.0" fill="#050508"/><rect x="507.3" y="471.8" width="2.4" height="5" fill="#b0b0b0"/>
</g>

<!-- Heatsink -->
<rect x="427" y="317.5" width="82" height="114.5" fill="url(#pHs)"/>
<g fill="#36d436"><rect x="428.3" y="314.8" width="3.6" height="4" rx="1.5"/><rect x="447.55" y="314.8" width="3.6" height="4" rx="1.5"/><rect x="466.8" y="314.8" width="3.6" height="4" rx="1.5"/><rect x="486.05" y="314.8" width="3.6" height="4" rx="1.5"/><rect x="505.3" y="314.8" width="3.6" height="4" rx="1.5"/></g>
<path d="M427.5 318 L427.5 432.5 L509 432.5" fill="none" stroke="#b8c4d8" stroke-width="1"/>

<!-- Right terminal block -->
<rect x="525" y="430" width="48" height="12" fill="#0c1440"/>
<path d="M529 318 L545 314.5 L575.3 314.5 L575.3 431.5 L529 431.5 Z" fill="#2070e2"/>
<path d="M529 318 L545 314.5 L547 314.5 L547 431.5 L529 431.5 Z" fill="#1a64d4"/>
<rect x="525" y="318" width="4" height="113" fill="#0c1a50"/>
<g fill="#0c2a70">
  <circle cx="541" cy="329" r="2"/><circle cx="541" cy="358" r="2"/><circle cx="541" cy="387" r="2"/><circle cx="541" cy="416" r="2"/>
</g>
<rect x="553" y="342" width="22" height="2.5" fill="#143a90"/>
<rect x="553" y="400" width="22" height="2.5" fill="#143a90"/>
<g>
  <circle cx="560.5" cy="328.8" r="9.6" fill="#0c2070"/><circle cx="560.5" cy="328.8" r="7.9" fill="url(#gScrew)"/>
  <circle cx="560.5" cy="357.6" r="9.6" fill="#0c2070"/><circle cx="560.5" cy="357.6" r="7.9" fill="url(#gScrew)"/>
  <circle cx="560.5" cy="387" r="9.6" fill="#0c2070"/><circle cx="560.5" cy="387" r="7.9" fill="url(#gScrew)"/>
  <circle cx="560.5" cy="416" r="9.6" fill="#0c2070"/><circle cx="560.5" cy="416" r="7.9" fill="url(#gScrew)"/>
  <path d="M554 326 L567 331" stroke="#4a5070" stroke-width="2"/>
  <path d="M555 352 L566 363 M555 381.5 L566 392.5 M555 410.5 L566 421.5" stroke="#4a5070" stroke-width="2"/>
  <path d="M556 354 L565 363 M556 383.5 L565 392.5 M556 412.5 L565 421.5" stroke="#ffffff" stroke-width="1" opacity="0.8"/>
</g>

<!-- Pots (green) -->
<g>
  <rect x="235.5" y="442.3" width="62" height="42" fill="url(#gPot)"/>
  <rect x="235.5" y="442.3" width="62" height="4" fill="#3c9a80"/>
  <rect x="291.8" y="442.3" width="5.7" height="42" fill="#178a5a"/>
  <rect x="297.5" y="442.3" width="2.5" height="44" fill="#0e1638"/>
  <rect x="300.3" y="441" width="1" height="48" fill="#aab4dc" opacity="0.8"/>
  <rect x="382.3" y="440.5" width="55" height="47.2" fill="url(#gPot)"/>
  <rect x="382.3" y="440.5" width="55" height="4" fill="#3c9a80"/>
  <rect x="434.5" y="440.5" width="2.9" height="47.2" fill="#178a5a" opacity="0.6"/>
  <rect x="517.5" y="439.5" width="8" height="47.5" fill="#0e1c40"/>
  <rect x="522" y="442" width="61" height="44" fill="url(#gPot)"/>
  <rect x="522" y="442" width="61" height="4" fill="#3c9a80"/>
  <rect x="522" y="442" width="6" height="44" fill="#168a5a"/>
</g>

<!-- Knobs -->
<path d="M233.4 514.8 Q233.4 511.8 236.4 511.8 L299.2 511.8 Q302.2 511.8 302.2 514.8 L302.2 534.4 L304.8 535.4 L304.8 594.7 L303.7 595.7 L303.7 604 Q303.7 607 297.7 608 Q268.85 614.0 240 608 Q234 607 234 604 L234 595.7 L230.8 594.7 L230.8 535.4 L233.4 534.4 Z" fill="url(#gKnob)"/>
<path d="M233.4 514.8 Q233.4 511.8 236.4 511.8 L299.2 511.8 Q302.2 511.8 302.2 514.8 L302.2 534.4 L304.8 535.4 L304.8 594.7 L303.7 595.7 L303.7 604 Q303.7 607 297.7 608 Q268.85 614.0 240 608 Q234 607 234 604 L234 595.7 L230.8 594.7 L230.8 535.4 L233.4 534.4 Z" fill="url(#pRidge)" opacity="0.22"/>
<line x1="231.8" y1="535.4" x2="303.8" y2="535.4" stroke="#000" stroke-width="1" opacity="0.6"/>
<line x1="235" y1="595.7" x2="302.7" y2="595.7" stroke="#000" stroke-width="1.2" opacity="0.7"/>
<line x1="256" y1="515" x2="256" y2="534" stroke="#8a8a8a" stroke-width="1.2" opacity="0.35"/>
<line x1="268" y1="540" x2="268" y2="600" stroke="#8a8a8a" stroke-width="1.2" opacity="0.3"/>
<line x1="281" y1="540" x2="281" y2="600" stroke="#8a8a8a" stroke-width="1.2" opacity="0.25"/>
<path d="M377 514 Q377 511 380 511 L442.1 511 Q445.1 511 445.1 514 L445.1 537.3 L447.2 538.3 L447.2 594.4 L444.4 595.4 L444.4 603.4 Q444.4 606.4 438.4 607.4 Q410.35 612.7 382.3 607.4 Q376.3 606.4 376.3 603.4 L376.3 595.4 L374.9 594.4 L374.9 538.3 L377 537.3 Z" fill="url(#gKnob)"/>
<path d="M377 514 Q377 511 380 511 L442.1 511 Q445.1 511 445.1 514 L445.1 537.3 L447.2 538.3 L447.2 594.4 L444.4 595.4 L444.4 603.4 Q444.4 606.4 438.4 607.4 Q410.35 612.7 382.3 607.4 Q376.3 606.4 376.3 603.4 L376.3 595.4 L374.9 594.4 L374.9 538.3 L377 537.3 Z" fill="url(#pRidge)" opacity="0.22"/>
<line x1="375.9" y1="538.3" x2="446.2" y2="538.3" stroke="#000" stroke-width="1" opacity="0.6"/>
<line x1="377.3" y1="595.4" x2="443.4" y2="595.4" stroke="#000" stroke-width="1.2" opacity="0.7"/>
<line x1="399.7" y1="516" x2="399.7" y2="537" stroke="#8a8a8a" stroke-width="1.2" opacity="0.55"/>
<line x1="421.7" y1="540" x2="421.7" y2="600" stroke="#8a8a8a" stroke-width="1.2" opacity="0.3"/>
<line x1="438.2" y1="540" x2="438.2" y2="594" stroke="#8a8a8a" stroke-width="1.2" opacity="0.3"/>
<path d="M516 515.2 Q516 512.2 519 512.2 L581.4 512.2 Q584.4 512.2 584.4 515.2 L584.4 537.4 L586.5 538.4 L586.5 594.9 L584.4 595.9 L584.4 605 Q584.4 608 578.4 609 Q550.5999999999999 613.9 522.8 609 Q516.8 608 516.8 605 L516.8 595.9 L513.9 594.9 L513.9 538.4 L516 537.4 Z" fill="url(#gKnob)"/>
<path d="M516 515.2 Q516 512.2 519 512.2 L581.4 512.2 Q584.4 512.2 584.4 515.2 L584.4 537.4 L586.5 538.4 L586.5 594.9 L584.4 595.9 L584.4 605 Q584.4 608 578.4 609 Q550.5999999999999 613.9 522.8 609 Q516.8 608 516.8 605 L516.8 595.9 L513.9 594.9 L513.9 538.4 L516 537.4 Z" fill="url(#pRidge)" opacity="0.22"/>
<line x1="514.9" y1="538.4" x2="585.5" y2="538.4" stroke="#000" stroke-width="1" opacity="0.6"/>
<line x1="517.8" y1="595.9" x2="583.4" y2="595.9" stroke="#000" stroke-width="1.2" opacity="0.7"/>
<line x1="541.2" y1="516" x2="541.2" y2="600" stroke="#8a8a8a" stroke-width="1.2" opacity="0.45"/>
<line x1="557" y1="516" x2="557" y2="594" stroke="#8a8a8a" stroke-width="1.2" opacity="0.3"/>
<line x1="576" y1="540" x2="576" y2="594" stroke="#8a8a8a" stroke-width="1.2" opacity="0.25"/>

<!-- Pot bushings / nuts -->
<g>
  <rect x="236.5" y="484.3" width="60" height="13" fill="url(#gSilverB)"/>
  <rect x="235" y="497" width="65.5" height="5.2" rx="2.5" fill="url(#gWasher)"/>
  <rect x="237.4" y="502" width="61.2" height="9.8" fill="url(#gNut)"/>
  <rect x="261" y="502" width="1" height="9.8" fill="#8a8a8a"/><rect x="290" y="502" width="1" height="9.8" fill="#8a8a8a"/>
  <rect x="383.5" y="487.7" width="53" height="10.5" fill="url(#gSilverB)"/>
  <rect x="380" y="498" width="62" height="5" rx="2.5" fill="url(#gWasher)"/>
  <rect x="384" y="503" width="53" height="11.6" fill="url(#gNut)"/>
  <rect x="410" y="503" width="1" height="11.6" fill="#8a8a8a"/><rect x="431" y="503" width="1" height="11.6" fill="#8a8a8a"/>
  <rect x="527" y="486" width="55.5" height="9.5" fill="url(#gSilverB)"/>
  <rect x="518" y="495.5" width="67" height="4.8" rx="2.4" fill="url(#gWasher)"/>
  <rect x="520.4" y="500.3" width="57.5" height="11.9" fill="url(#gNut)"/>
  <rect x="535" y="500.3" width="1" height="11.9" fill="#8a8a8a"/><rect x="568" y="500.3" width="1" height="11.9" fill="#8a8a8a"/>
</g>

<!-- Speakers -->
<g fill="none" stroke-width="1.6">
  <path d="M628 300 Q621.5 318 629.5 336" stroke="#8c94a4"/>
  <path d="M619.5 296 Q611.5 318 620 339" stroke="#a4aebc"/>
  <path d="M607.5 290 Q599 318 606.5 341" stroke="#d0d6de"/>
  <path d="M712 300 Q719.5 318 712.5 336" stroke="#9ea6b2"/>
  <path d="M720.5 296 Q729.5 318 720 340" stroke="#aeb6c2"/>
  <path d="M628 405 Q621.5 423 629.5 441" stroke="#8c94a4"/>
  <path d="M619.5 401 Q611.5 423 620 444" stroke="#a4aebc"/>
  <path d="M607.5 395 Q599 423 606.5 446" stroke="#d0d6de"/>
  <path d="M712 405 Q719.5 423 712.5 441" stroke="#9ea6b2"/>
  <path d="M720.5 401 Q729.5 423 720 445" stroke="#aeb6c2"/>
</g>
<g id="spkR">
<circle cx="670.3" cy="316.7" r="41.2" fill="url(#gSpk)"/>
<circle cx="670.3" cy="316.7" r="38.2" fill="none" stroke="#2e2c2c" stroke-width="2.2"/>
<circle cx="670.3" cy="316.7" r="33" fill="none" stroke="#2c2a2a" stroke-width="1.2"/>
<circle cx="668.7" cy="315.8" r="14.5" fill="#161616" opacity="0.5"/>
<circle cx="668.7" cy="315.8" r="11.3" fill="url(#gDome)"/>
</g>
<g id="spkL">
<circle cx="670.4" cy="421.6" r="41" fill="url(#gSpk)"/>
<circle cx="670.4" cy="421.6" r="38" fill="none" stroke="#2e2c2c" stroke-width="2.2"/>
<circle cx="670.4" cy="421.6" r="33" fill="none" stroke="#2c2a2a" stroke-width="1.2"/>
<circle cx="668.8" cy="421.6" r="14.5" fill="#161616" opacity="0.5"/>
<circle cx="668.8" cy="421.6" r="11.3" fill="url(#gDome)"/>
</g>

<!-- Speaker wires -->
<polyline points="575,330 612.5,330 612.5,316 631,316" fill="none" stroke="#e01818" stroke-width="3"/>
<polyline points="575,358 612.5,358 612.5,345 640,345" fill="none" stroke="#111" stroke-width="3"/>
<polyline points="575,386.5 612.5,386.5 612.5,400.5 635,400.5" fill="none" stroke="#e01818" stroke-width="3"/>
<polyline points="575,416 612.5,416 612.5,428 632,428" fill="none" stroke="#111" stroke-width="3"/>

<!-- small marks -->
<g fill="#e02020">
  <rect x="584" y="321" width="8" height="2"/><rect x="587" y="318" width="2" height="8"/>
  <rect x="584" y="378" width="8" height="2"/><rect x="587" y="375" width="2" height="8"/>
</g>
<g fill="#333">
  <rect x="587.5" y="362" width="1.5" height="4"/>
  <rect x="587.5" y="420" width="1.5" height="4"/>
</g>
<text transform="translate(654.3,371.5) scale(0.66,1)" x="0" y="0" fill="#333" font-size="13.8" style="font-family:'Liberation Sans',sans-serif;font-weight:bold">R</text>
<text transform="translate(654.6,476.5) scale(0.72,1)" x="0" y="0" fill="#333" font-size="13.3" style="font-family:'Liberation Sans',sans-serif;font-weight:bold">L</text>

<!-- Audio input lines -->
<rect x="163" y="381.9" width="89" height="3.1" fill="#0e7416"/>
<rect x="159" y="395" width="93" height="4.5" fill="#f2cc26"/><rect x="159" y="395" width="93" height="1.3" fill="#f8e070"/>
<rect x="163" y="409.2" width="89" height="3.5" fill="#bc101a"/>
<text transform="translate(151.3,387) scale(0.75,1)" x="0" y="0" fill="#555" font-size="11" style="font-family:'Liberation Sans',sans-serif;font-weight:normal">R</text>
<text transform="translate(151.5,416) scale(0.8,1)" x="0" y="0" fill="#555" font-size="11" style="font-family:'Liberation Sans',sans-serif;font-weight:normal">L</text>
<rect x="226.5" y="366" width="1.5" height="7" fill="#333"/>
<g class="ser"><text transform="translate(108.70,400.8) scale(0.948,1)" x="0" y="0" font-size="15.15" fill="#141414" style="font-family:'Liberation Mono',monospace;font-weight:bold" stroke="#141414" stroke-width="0.15">Ground line</text></g>
<g class="ser"><text transform="translate(106.00,434) scale(0.899,1)" x="0" y="0" font-size="15.76" fill="#141414" style="font-family:'Liberation Mono',monospace;font-weight:bold" stroke="#141414" stroke-width="0.15">3P audio input</text></g>
<rect x="225" y="425" width="6" height="1.6" fill="#e02020"/>
<rect x="227.2" y="422.8" width="1.6" height="6" fill="#e02020"/>

<!-- Bottom labels -->
<g class="ser"><text transform="translate(215.70,629.4) scale(0.831,1)" x="0" y="0" font-size="16.97" fill="#141414" style="font-family:'Liberation Mono',monospace;font-weight:bold" stroke="#141414" stroke-width="0.15">Total volume</text></g>
<g class="ser"><text transform="translate(390.00,629) scale(0.877,1)" x="0" y="0" font-size="16.06" fill="#141414" style="font-family:'Liberation Mono',monospace;font-weight:bold" stroke="#141414" stroke-width="0.15">Treble</text></g>
<g class="ser"><text transform="translate(538.90,627.9) scale(0.900,1)" x="0" y="0" font-size="16.06" fill="#141414" style="font-family:'Liberation Mono',monospace;font-weight:bold" stroke="#141414" stroke-width="0.15">Bass</text></g>
</g>
</svg>
</body></html>
